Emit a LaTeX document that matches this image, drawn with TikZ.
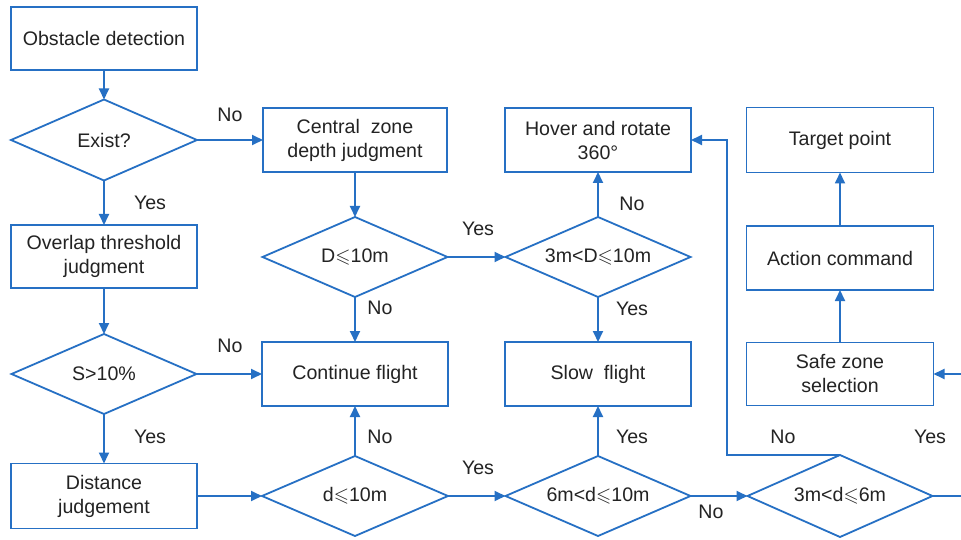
\documentclass[tikz,border=0pt]{standalone}
\usepackage{fontspec}
\usepackage{amssymb}
\setmainfont{Liberation Sans}
\usetikzlibrary{shapes.geometric,arrows.meta}
\definecolor{flowblue}{RGB}{38,112,196}
\definecolor{txt}{RGB}{35,35,35}
\tikzset{
  base/.style={draw=flowblue, line width=1.8pt, text=txt, inner sep=0pt, outer sep=0pt, align=center,
    font=\fontsize{19.6}{24}\selectfont},
  box/.style={base, rectangle, minimum width=#1, minimum height=64pt},
  box/.default=186pt,
  dia/.style={base, diamond, aspect=2.3, minimum width=185pt, minimum height=80pt},
  lbl/.style={text=txt, font=\fontsize{19.6}{24}\selectfont, inner sep=0pt},
  conn/.style={draw=flowblue, line width=1.8pt, -{Triangle[length=11pt,width=10pt]}},
}
\begin{document}
\begin{tikzpicture}[x=1pt,y=-1pt]
\clip (0,0) rectangle (961,540);
\useasboundingbox (0,0) rectangle (961,540);
\fill[white] (0,0) rectangle (961,540);
% nodes
\node[box, minimum height=63pt] (obst) at (104,38.5) {Obstacle detection};
\node[dia, minimum width=186pt, minimum height=81pt] (exist) at (104,140) {Exist?};
\node[box, minimum height=63pt] (overlap) at (104,256.5) {Overlap threshold\\judgment};
\node[dia] (s10) at (104,374) {S>10\%};
\node[box, minimum height=65pt] (dist) at (104,496) {Distance\\judgement};
\node[box=184pt] (central) at (355,140) {Central\ \ zone\\depth judgment};
\node[dia] (D10) at (355,257) {D$\leqslant$10m};
\node[box] (cont) at (355,374) {Continue flight};
\node[dia, minimum width=186pt] (d10) at (355,496) {d$\leqslant$10m};
\node[box] (hover) at (598,140) {Hover and rotate\\360°};
\node[dia] (D310) at (598,257) {3m<D$\leqslant$10m};
\node[box] (slow) at (598,374) {Slow\ \ flight};
\node[dia] (d610) at (598,496) {6m<d$\leqslant$10m};
\node[dia, minimum height=82pt] (d36) at (840,496) {3m<d$\leqslant$6m};
\node[box=187pt, minimum height=63pt] (safe) at (840,374) {Safe zone\\selection};
\node[box=187pt] (action) at (840,258) {Action command};
\node[box=187pt, minimum height=65pt] (target) at (840,140) {Target point};
% helper coordinates
\coordinate (c1) at (727,455);
\coordinate (c2) at (727,140);
\coordinate (c3) at (975,496);
\coordinate (c4) at (975,374);
% connectors
\draw[conn] (obst.south) -- (exist.north);
\draw[conn] (exist.south) -- (overlap.north);
\draw[conn] (exist.east) -- (central.west);
\draw[conn] (central.south) -- (D10.north);
\draw[conn] (D10.east) -- (D310.west);
\draw[conn] (D10.south) -- (cont.north);
\draw[conn] (D310.north) -- (hover.south);
\draw[conn] (D310.south) -- (slow.north);
\draw[conn] (overlap.south) -- (s10.north);
\draw[conn] (s10.east) -- (cont.west);
\draw[conn] (s10.south) -- (dist.north);
\draw[conn] (dist.east) -- (d10.west);
\draw[conn] (d10.north) -- (cont.south);
\draw[conn] (d10.east) -- (d610.west);
\draw[conn] (d610.north) -- (slow.south);
\draw[conn] (d610.east) -- (d36.west);
\draw[conn] (d36.north) -- (c1) -- (c2) -- (hover.east);
\draw[conn] (d36.east) -- (c3) -- (c4) -- (safe.east);
\draw[conn] (safe.north) -- (action.south);
\draw[conn] (action.north) -- (target.south);
% labels
\node[lbl] (l1) at (230,115) {No};
\node[lbl] (l2) at (150,203) {Yes};
\node[lbl] (l3) at (230,346) {No};
\node[lbl] (l4) at (150,437) {Yes};
\node[lbl] (l5) at (380,308) {No};
\node[lbl] (l6) at (380,437) {No};
\node[lbl] (l7) at (478,229) {Yes};
\node[lbl] (l8) at (478,468) {Yes};
\node[lbl] (l9) at (632,204) {No};
\node[lbl] (l10) at (632,309) {Yes};
\node[lbl] (l11) at (632,437) {Yes};
\node[lbl] (l12) at (711,512) {No};
\node[lbl] (l13) at (783,437) {No};
\node[lbl] (l14) at (930,437) {Yes};
\end{tikzpicture}
\end{document}
